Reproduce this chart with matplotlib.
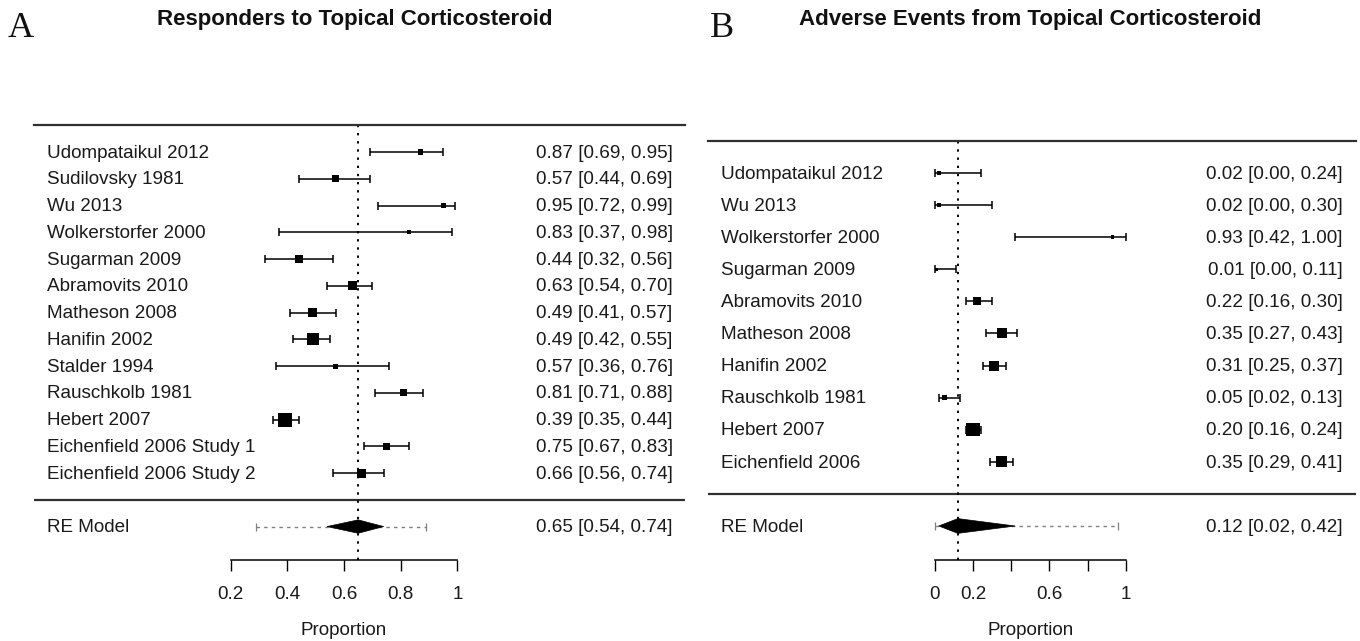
import matplotlib
matplotlib.use("Agg")
import matplotlib.pyplot as plt
import matplotlib.transforms as mtransforms
from matplotlib.patches import Polygon

plt.rcParams['font.family'] = ['Liberation Sans', 'DejaVu Sans']

# ---------------- Panel A data ----------------
a_title = "Responders to Topical Corticosteroid"
a_studies = ["Udompataikul 2012", "Sudilovsky 1981", "Wu 2013", "Wolkerstorfer 2000",
             "Sugarman 2009", "Abramovits 2010", "Matheson 2008", "Hanifin 2002",
             "Stalder 1994", "Rauschkolb 1981", "Hebert 2007",
             "Eichenfield 2006 Study 1", "Eichenfield 2006 Study 2"]
a_est = [0.87, 0.57, 0.95, 0.83, 0.44, 0.63, 0.49, 0.49, 0.57, 0.81, 0.39, 0.75, 0.66]
a_lo = [0.69, 0.44, 0.72, 0.37, 0.32, 0.54, 0.41, 0.42, 0.36, 0.71, 0.35, 0.67, 0.56]
a_hi = [0.95, 0.69, 0.99, 0.98, 0.56, 0.70, 0.57, 0.55, 0.76, 0.88, 0.44, 0.83, 0.74]
a_weight = [5.5, 7, 5, 4, 8, 9, 9, 12, 5, 7, 14, 7.5, 9]
a_re = [0.65, 0.54, 0.74]
a_pi = [0.29, 0.89]
a_ticks = [0.2, 0.4, 0.6, 0.8, 1.0]
a_ticklabels = ["0.2", "0.4", "0.6", "0.8", "1"]

# ---------------- Panel B data ----------------
b_title = "Adverse Events from Topical Corticosteroid"
b_studies = ["Udompataikul 2012", "Wu 2013", "Wolkerstorfer 2000", "Sugarman 2009",
             "Abramovits 2010", "Matheson 2008", "Hanifin 2002", "Rauschkolb 1981",
             "Hebert 2007", "Eichenfield 2006"]
b_est = [0.02, 0.02, 0.93, 0.01, 0.22, 0.35, 0.31, 0.05, 0.20, 0.35]
b_lo = [0.00, 0.00, 0.42, 0.00, 0.16, 0.27, 0.25, 0.02, 0.16, 0.29]
b_hi = [0.24, 0.30, 1.00, 0.11, 0.30, 0.43, 0.37, 0.13, 0.24, 0.41]
b_weight = [4, 4.5, 3.5, 3, 8, 10, 10, 5, 13.5, 11]
b_re = [0.12, 0.02, 0.42]
b_pi = [0.00, 0.96]
b_ticks = [0.0, 0.2, 0.4, 0.6, 0.8, 1.0]
b_ticklabels = ["0", "0.2", "", "0.6", "", "1"]

W, H = 1360, 641
fig = plt.figure(figsize=(W / 100, H / 100), dpi=100)

FS = 13.6
LINE_C = '#303030'
TXT_C = '#1a1a1a'


def panel(rect_px, xlim, ybottom, studies, est, lo, hi, weight, re, pi, ticks,
          ticklabels, right_frac, diamond_h):
    left, top, right, bottom = rect_px
    ax = fig.add_axes([left / W, 1 - bottom / H, (right - left) / W, (bottom - top) / H])
    n = len(studies)
    rows = list(range(n))
    ax.set_xlim(*xlim)
    ax.set_ylim(ybottom, -1)

    # spines
    for s in ['left', 'right']:
        ax.spines[s].set_visible(False)
    ax.spines['top'].set_linewidth(1.6)
    ax.spines['top'].set_color(LINE_C)
    ax.spines['bottom'].set_bounds(ticks[0], ticks[-1])
    ax.spines['bottom'].set_linewidth(1.1)
    ax.set_yticks([])
    ax.set_xticks(ticks)
    ax.set_xticklabels(ticklabels, fontsize=FS)
    ax.tick_params(axis='x', direction='out', length=7.6, width=1.0, pad=11.0,
                   colors='black')
    ax.tick_params(axis='x', labelcolor=TXT_C)

    # separator
    ax.axhline(n, color=LINE_C, lw=1.6)
    # reference line at pooled estimate
    ax.axvline(re[0], color='black', lw=1.4, linestyle=(0, (1.2, 3.0)))

    # CIs
    xerr = [[e - l for e, l in zip(est, lo)], [h - e for e, h in zip(est, hi)]]
    ax.errorbar(est, rows, xerr=xerr, fmt='none', ecolor='black', elinewidth=1.1,
                capsize=2.6, capthick=1.1, zorder=3)
    ax.scatter(est, rows, s=[(w * 0.72) ** 2 for w in weight], marker='s',
               c='black', linewidths=0, zorder=4)

    # RE model
    re_row = n + 1
    ax.plot(pi, [re_row, re_row], color='#808080', lw=1.0, linestyle=(0, (2.5, 3)),
            zorder=2)
    ax.plot(pi, [re_row, re_row], color='#808080', lw=0, marker='|', markersize=6,
            markeredgewidth=0.9, zorder=2)
    diamond = Polygon([(re[1], re_row), (re[0], re_row - diamond_h),
                       (re[2], re_row), (re[0], re_row + diamond_h)],
                      closed=True, facecolor='black', edgecolor='black', lw=0.5,
                      zorder=5)
    ax.add_patch(diamond)

    off = mtransforms.ScaledTranslation(0, -5.7 / 100, fig.dpi_scale_trans)
    blend = mtransforms.blended_transform_factory(ax.transAxes, ax.transData) + off
    labels = studies + ["RE Model"]
    lrows = rows + [re_row]
    ests = est + [re[0]]
    los = lo + [re[1]]
    his = hi + [re[2]]
    for lab, r, e, l, h in zip(labels, lrows, ests, los, his):
        ax.text(0.02, r, lab, transform=blend, ha='left', va='baseline',
                fontsize=FS, color=TXT_C)
        ax.text(right_frac, r, f"{e:.2f} [{l:.2f}, {h:.2f}]", transform=blend,
                ha='right', va='baseline', fontsize=FS, color=TXT_C)

    # axis title
    off2 = mtransforms.ScaledTranslation(0, -75 / 100, fig.dpi_scale_trans)
    blend2 = mtransforms.blended_transform_factory(ax.transData, ax.transAxes) + off2
    ax.text((ticks[0] + ticks[-1]) / 2, 0, "Proportion", transform=blend2,
            ha='center', va='baseline', fontsize=FS, color=TXT_C)
    return ax


panel((34, 125.25, 685, 560), (-0.4943, 1.8036), 15.25, a_studies, a_est, a_lo,
      a_hi, a_weight, a_re, a_pi, a_ticks, a_ticklabels, 0.981, 0.25)
panel((708, 140.9, 1356, 560), (-1.1903, 2.2077), 12.06, b_studies, b_est, b_lo,
      b_hi, b_weight, b_re, b_pi, b_ticks, b_ticklabels, 0.979, 0.23)

# titles and panel letters
fig.text(355 / W, 1 - 25 / H, a_title, ha='center', va='baseline', fontsize=16,
         fontweight='bold', color='#111111')
fig.text(1030 / W, 1 - 25 / H, b_title, ha='center', va='baseline', fontsize=16,
         fontweight='bold', color='#111111')
fig.text(8 / W, 1 - 37 / H, "A", ha='left', va='baseline', fontsize=26,
         family=['Liberation Serif', 'DejaVu Serif'], color='#111111')
fig.text(710 / W, 1 - 37 / H, "B", ha='left', va='baseline', fontsize=26,
         family=['Liberation Serif', 'DejaVu Serif'], color='#111111')

fig.savefig("out.png", dpi=100)
